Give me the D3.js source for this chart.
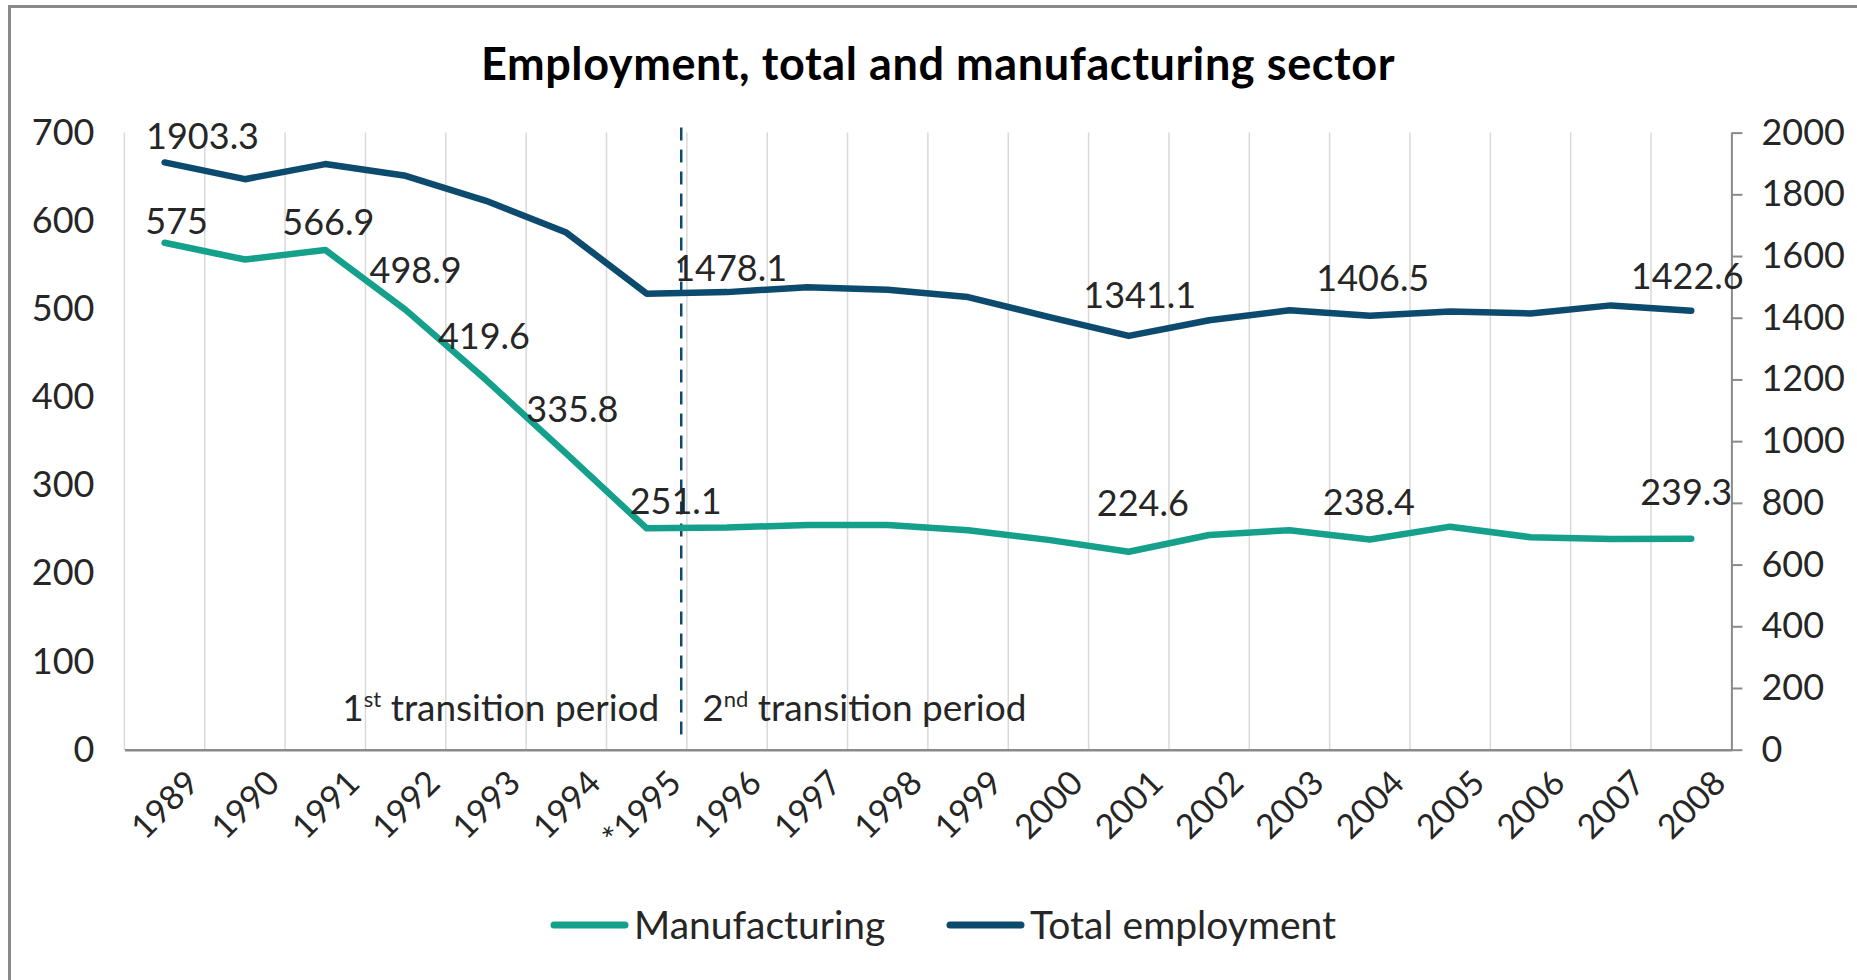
<!DOCTYPE html>
<html>
<head>
<meta charset="utf-8">
<script src="https://cdn.jsdelivr.net/npm/d3@7"></script>
<style>
  body { margin: 0; background: #fff; }
  svg { display: block; font-family: Lato, "Noto Sans", sans-serif; }
</style>
</head>
<body>
<div id="chart"></div>
<script>
// data
var years = ["1989", "1990", "1991", "1992", "1993", "1994", "*1995", "1996", "1997", "1998",
  "1999", "2000", "2001", "2002", "2003", "2004", "2005", "2006", "2007", "2008"];
var manufacturing = [575, 556, 566.9, 498.9, 419.6, 335.8, 251.1, 252, 255, 255,
  249, 238, 224.6, 243.5, 249, 238.4, 253, 241, 239, 239.3];
var totalEmployment = [1903.3, 1849, 1898, 1860, 1779, 1676, 1478.1, 1483, 1499, 1491,
  1467, 1403, 1341.1, 1392, 1424, 1406.5, 1420, 1414, 1440, 1422.6];
var leftTicks = [0, 100, 200, 300, 400, 500, 600, 700];
var rightTicks = [0, 200, 400, 600, 800, 1000, 1200, 1400, 1600, 1800, 2000];

// which points carry a value label, with a nudge for each label (px)
var manLabels = [[0, 12, -21], [2, 3, -28], [3, 10, -39], [4, -2, -43], [5, 6, -44],
  [6, 29, -27], [12, 14, -48], [15, -1, -37], [19, -5, -46]];
var totLabels = [[0, 38, -26], [6, 84, -25], [12, 11, -41], [15, 3, -37], [19, -4, -34]];

var W = 1857, H = 980;
var green = "#14a08b", blue = "#0c4a6e", textCol = "#262626";
var plot = { left: 124.4, right: 1731.4, top: 132.6, bottom: 749.7 };

var svg = d3.select("#chart").append("svg")
  .attr("width", W)
  .attr("height", H);

// frame (only top and left edges are visible in the crop)
svg.append("path")
  .attr("d", "M9.5," + H + "V6.5H" + W)
  .attr("fill", "none")
  .attr("stroke", "#8a8a8a")
  .attr("stroke-width", 3);

svg.append("text")
  .attr("x", 938)
  .attr("y", 80)
  .attr("text-anchor", "middle")
  .attr("font-size", 45)
  .attr("font-weight", "bold")
  .attr("letter-spacing", 0.6)
  .attr("fill", "#000")
  .text("Employment, total and manufacturing sector");

var x = d3.scaleBand().domain(years).range([plot.left, plot.right]);
var yL = d3.scaleLinear().domain([0, 700]).range([plot.bottom, plot.top]);
var yR = d3.scaleLinear().domain([0, 2000]).range([plot.bottom, plot.top]);
var cx = function(i) { return x(years[i]) + x.bandwidth() / 2; };

// vertical category gridlines
svg.append("g").selectAll("line")
  .data(years)
  .enter().append("line")
  .attr("x1", d => x(d)).attr("x2", d => x(d))
  .attr("y1", plot.top).attr("y2", plot.bottom)
  .attr("stroke", "#d9d9d9")
  .attr("stroke-width", 1.5);

// left axis: labels only
var gL = svg.append("g")
  .attr("transform", "translate(" + (plot.left - 30) + ",0)")
  .call(d3.axisLeft(yL).tickValues(leftTicks).tickSize(0).tickPadding(0));
gL.select(".domain").remove();

// right axis
var gR = svg.append("g")
  .attr("transform", "translate(" + plot.right + ",0)")
  .call(d3.axisRight(yR).tickValues(rightTicks).tickFormat(d3.format("d"))
    .tickSize(11).tickPadding(19).tickSizeOuter(0));
gR.select(".domain").attr("stroke", "#8a8a8a").attr("stroke-width", 2);
gR.selectAll(".tick line").attr("stroke", "#8a8a8a").attr("stroke-width", 2);

[gL, gR].forEach(function(g) {
  g.selectAll("text")
    .attr("font-family", "Lato, sans-serif")
    .attr("font-size", 36)
    .attr("fill", textCol);
});

// x axis
var gX = svg.append("g")
  .attr("transform", "translate(0," + plot.bottom + ")")
  .call(d3.axisBottom(x).tickSize(0).tickPadding(0));
gX.select(".domain").attr("stroke", "#8a8a8a").attr("stroke-width", 2.5);
gX.selectAll("text")
  .attr("font-family", "Lato, sans-serif")
  .attr("font-size", 34)
  .attr("fill", textCol)
  .attr("text-anchor", "end")
  .attr("dy", "0.35em")
  .attr("transform", "translate(28,27) rotate(-45)");

// dashed separator between the two transition periods
var sepX = cx(6) + x.bandwidth() * 0.43;
svg.append("line")
  .attr("x1", sepX)
  .attr("x2", sepX)
  .attr("y1", plot.top - 5)
  .attr("y2", plot.bottom - 8)
  .attr("stroke", blue)
  .attr("stroke-width", 2.5)
  .attr("stroke-dasharray", "13,9");

// period captions
var t1 = svg.append("text")
  .attr("x", sepX - 22).attr("y", 721)
  .attr("text-anchor", "end")
  .attr("font-size", 37)
  .attr("fill", textCol);
t1.append("tspan").text("1");
t1.append("tspan").attr("font-size", 22).attr("dy", -14).text("st");
t1.append("tspan").attr("dy", 14).text(" transition period");

var t2 = svg.append("text")
  .attr("x", sepX + 21).attr("y", 721)
  .attr("font-size", 37)
  .attr("fill", textCol);
t2.append("tspan").text("2");
t2.append("tspan").attr("font-size", 22).attr("dy", -14).text("nd");
t2.append("tspan").attr("dy", 14).text(" transition period");

// series lines
var lineL = d3.line().x((d, i) => cx(i)).y(d => yL(d));
var lineR = d3.line().x((d, i) => cx(i)).y(d => yR(d));

svg.append("path")
  .datum(totalEmployment)
  .attr("d", lineR)
  .attr("fill", "none")
  .attr("stroke", blue)
  .attr("stroke-width", 6.5)
  .attr("stroke-linejoin", "round")
  .attr("stroke-linecap", "round");

svg.append("path")
  .datum(manufacturing)
  .attr("d", lineL)
  .attr("fill", "none")
  .attr("stroke", green)
  .attr("stroke-width", 6.5)
  .attr("stroke-linejoin", "round")
  .attr("stroke-linecap", "round");

// value labels
function addLabels(list, values, scale) {
  svg.append("g").selectAll("text")
    .data(list)
    .enter().append("text")
    .attr("x", d => cx(d[0]) + d[1])
    .attr("y", d => scale(values[d[0]]) + d[2])
    .attr("dy", "0.35em")
    .attr("text-anchor", "middle")
    .attr("font-size", 36)
    .attr("fill", textCol)
    .text(d => values[d[0]]);
}
addLabels(manLabels, manufacturing, yL);
addLabels(totLabels, totalEmployment, yR);

// legend
var legend = svg.append("g").attr("transform", "translate(0,925)");
var items = [{ name: "Manufacturing", color: green, x: 551 }, { name: "Total employment", color: blue, x: 947 }];
items.forEach(function(it) {
  legend.append("line")
    .attr("x1", it.x + 3).attr("x2", it.x + 74)
    .attr("stroke", it.color)
    .attr("stroke-width", 7)
    .attr("stroke-linecap", "round");
  legend.append("text")
    .attr("x", it.x + 83)
    .attr("dy", "0.35em")
    .attr("font-size", 39)
    .attr("fill", textCol)
    .text(it.name);
});
</script>
</body>
</html>
